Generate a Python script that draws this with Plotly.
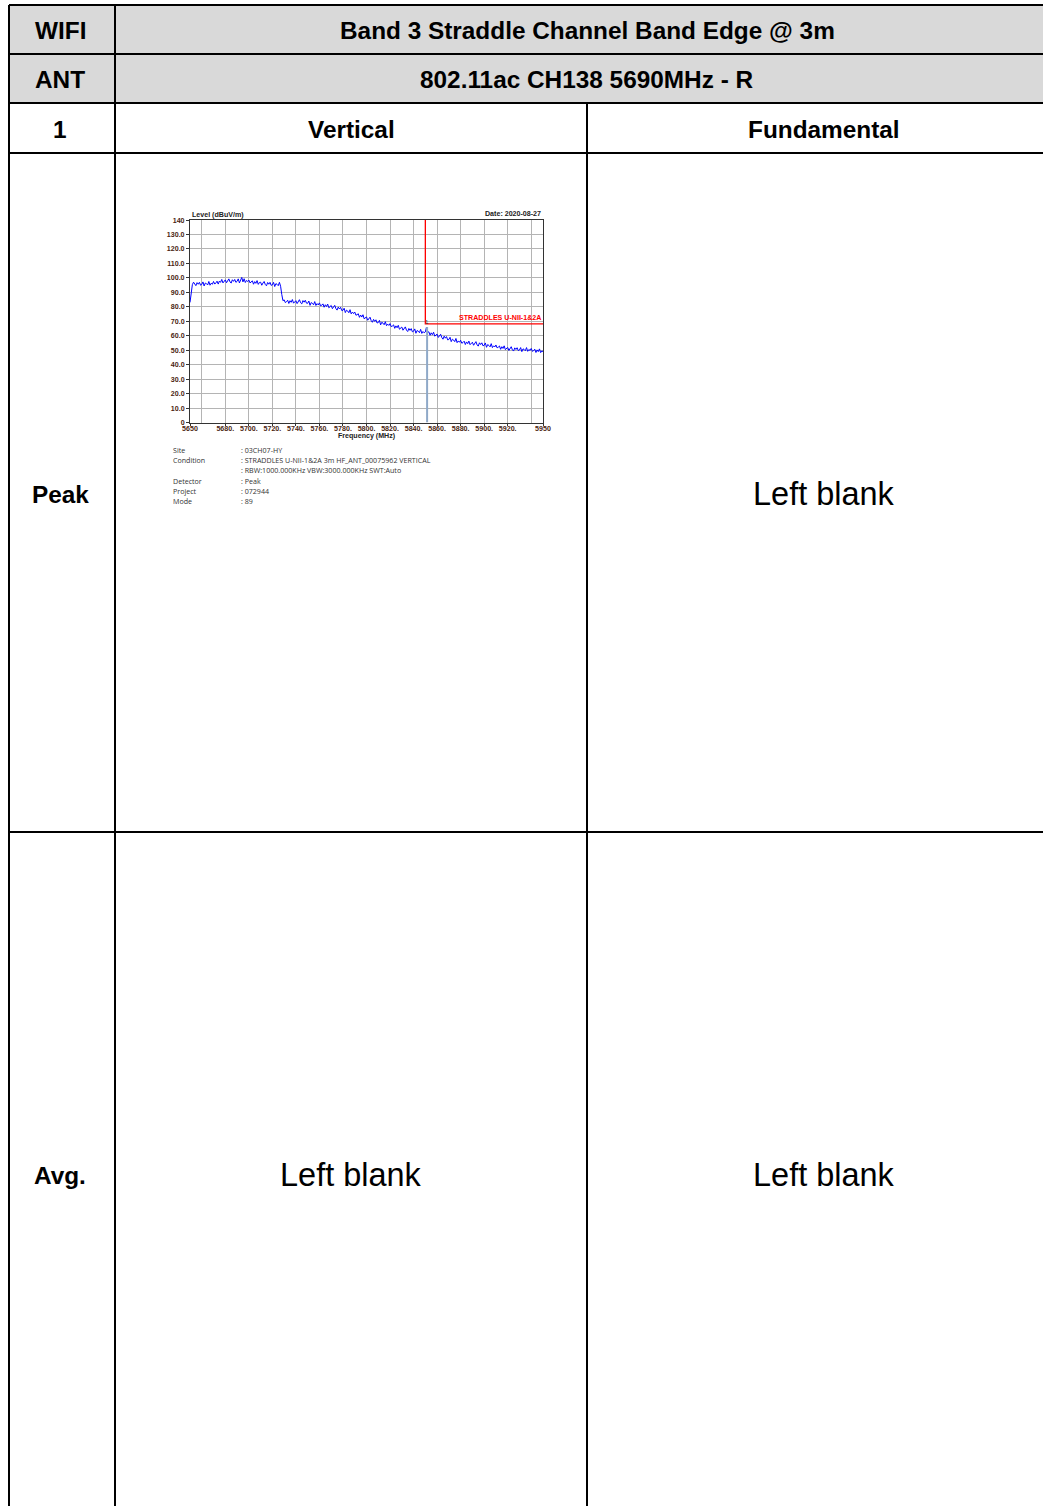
import plotly.graph_objects as go

# reference page size
W, H = 1051, 1510
# the photo puts the page into a 1035x1502 box at (8, 4); draw in reference pixels
OX, OY = 8, 4
SX, SY = 1035 / 1051, 1502 / 1510
FS = 1 / SX  # font size compensation

# ---- table texts ----
title_row = ["WIFI", "Band 3 Straddle Channel Band Edge @ 3m"]
ant_row = ["ANT", "802.11ac CH138 5690MHz - R"]
col_row = ["1", "Vertical", "Fundamental"]
row_names = ["Peak", "Avg."]
blank_text = "Left blank"

# ---- spectrum (Peak / Vertical), 1 MHz step from 5650 MHz ----
start_freq = 5650
step_freq = 1
level = [
    83.0, 90.5, 95.3, 97.0, 95.2, 94.6, 96.7, 95.6, 96.9, 94.9,
    95.5, 97.2, 94.4, 96.4, 96.0, 95.1, 97.5, 94.9, 96.3, 95.6,
    97.5, 95.7, 96.5, 97.7, 95.7, 97.8, 96.9, 98.9, 96.5, 97.9,
    98.6, 96.6, 98.1, 99.3, 97.2, 96.4, 98.7, 97.6, 98.9, 96.9,
    97.6, 99.3, 96.5, 98.5, 100.3, 97.2, 99.4, 96.8, 98.2, 97.5,
    98.5, 96.5, 97.0, 97.9, 95.6, 97.4, 96.2, 98.1, 95.5, 96.8,
    97.0, 94.9, 96.4, 97.5, 95.4, 94.5, 96.8, 95.6, 96.9, 94.8,
    95.2, 96.9, 94.0, 96.0, 95.5, 94.6, 96.9, 94.2, 88.5, 84.2,
    84.8, 82.9, 83.5, 84.5, 82.3, 84.2, 83.1, 85.0, 82.5, 83.8,
    84.2, 82.2, 83.7, 84.9, 82.8, 82.0, 84.3, 83.2, 84.5, 82.5,
    82.4, 84.0, 81.0, 82.9, 82.4, 81.4, 83.6, 80.9, 82.2, 81.3,
    82.7, 80.7, 81.1, 82.0, 79.7, 81.4, 80.2, 81.9, 79.3, 80.4,
    80.9, 78.7, 80.0, 81.0, 78.7, 77.7, 79.8, 78.5, 79.6, 77.4,
    77.6, 79.0, 76.0, 77.7, 77.1, 75.9, 78.0, 75.1, 76.3, 75.3,
    76.4, 74.2, 74.5, 75.2, 72.7, 74.3, 72.9, 74.5, 71.7, 72.7,
    73.0, 70.7, 71.9, 72.8, 70.4, 69.3, 71.3, 69.9, 71.0, 68.8,
    69.1, 70.6, 67.5, 69.3, 68.7, 67.6, 69.7, 66.9, 68.0, 67.1,
    68.4, 66.3, 66.7, 67.5, 65.1, 66.8, 65.5, 67.2, 64.5, 65.6,
    66.0, 63.8, 65.1, 66.1, 63.8, 62.9, 65.0, 63.7, 64.9, 62.7,
    63.1, 64.7, 61.7, 63.6, 63.1, 62.1, 64.4, 61.6, 62.9, 62.0,
    62.6, 66.0, 62.4, 62.7, 60.3, 62.0, 60.7, 62.4, 59.7, 60.8,
    61.1, 58.8, 60.1, 61.0, 58.7, 57.6, 59.7, 58.3, 59.4, 57.1,
    57.4, 58.9, 55.9, 57.6, 57.0, 55.9, 58.1, 55.2, 56.4, 55.5,
    56.8, 54.8, 55.3, 56.2, 53.9, 55.7, 54.5, 56.3, 53.8, 55.0,
    55.5, 53.4, 54.8, 55.9, 53.7, 52.8, 55.1, 53.9, 55.1, 53.0,
    53.4, 55.0, 52.0, 53.9, 53.3, 52.3, 54.5, 51.8, 53.0, 52.2,
    53.6, 51.6, 52.1, 52.9, 50.6, 52.4, 51.2, 53.0, 50.4, 51.5,
    51.9, 49.8, 51.2, 52.4, 50.2, 49.4, 51.6, 50.5, 51.7, 49.7,
    50.1, 51.8, 49.0, 50.9, 50.5, 49.6, 51.8, 49.2, 50.5, 49.8,
    51.2, 49.2, 49.7, 50.7, 48.4, 50.2, 49.0, 50.9, 48.3, 49.5,
    49.0,
]
freq = [start_freq + step_freq * i for i in range(len(level))]

limit_freq = [5850, 5850, 5950]
limit_level = [140, 68.2, 68.2]
limit_name = "STRADDLES U-NII-1&2A"

marker_freq = [5851.5, 5851.5]
marker_level = [0, 66.0]

y_ticks = [0, 10, 20, 30, 40, 50, 60, 70, 80, 90, 100, 110, 120, 130, 140]
y_ticktext = ["0", "10.0", "20.0", "30.0", "40.0", "50.0", "60.0", "70.0",
              "80.0", "90.0", "100.0", "110.0", "120.0", "130.0", "140"]
x_ticks = [5650, 5680, 5700, 5720, 5740, 5760, 5780, 5800, 5820, 5840,
           5860, 5880, 5900, 5920, 5950]
x_ticktext = ["5650", "5680.", "5700.", "5720.", "5740.", "5760.", "5780.",
              "5800.", "5820.", "5840.", "5860.", "5880.", "5900.", "5920.", "5950"]
x_grid = [5660, 5680, 5700, 5720, 5740, 5760, 5780, 5800, 5820, 5840,
          5860, 5880, 5900, 5920, 5940]

info_labels = ["Site", "Condition", "", "Detector", "Project", "Mode"]
info_values = [": 03CH07-HY",
               ": STRADDLES U-NII-1&2A 3m HF_ANT_00075962 VERTICAL",
               ": RBW:1000.000KHz VBW:3000.000KHz SWT:Auto",
               ": Peak", ": 072944", ": 89"]

BOLD = dict(family="Liberation Sans, Arial", size=24 * FS, color="black", weight="bold")
REG = dict(family="Liberation Sans, Arial", size=32 * FS, color="black")
SMALL_B = dict(family="Liberation Sans, Arial", size=7 * FS, color="#222222", weight="bold")
INFO = dict(family="Open Sans, Lato", size=7 * FS, color="#333333")


def px_x(x):
    return (x - OX) / (W * SX)


def px_y(y):
    return 1 - (y - OY) / (H * SY)


fig = go.Figure()

# spectrum chart on its own axes
fig.add_trace(go.Scatter(x=freq, y=level, mode="lines", xaxis="x2", yaxis="y2",
                         line=dict(color="#0000ff", width=1), showlegend=False))
fig.add_trace(go.Scatter(x=limit_freq, y=limit_level, mode="lines", xaxis="x2", yaxis="y2",
                         line=dict(color="#ff0000", width=1.3), showlegend=False))
fig.add_trace(go.Scatter(x=marker_freq, y=marker_level, mode="lines", xaxis="x2", yaxis="y2",
                         line=dict(color="#8fa9c8", width=2), showlegend=False))

# table drawn on a canvas axis that uses the reference pixel grid
LEFT = 9  # outer border, as far left as the photo allows
shapes = []
shapes.append(dict(type="rect", x0=LEFT, x1=W, y0=5, y1=103, xref="x", yref="y",
                   fillcolor="#d9d9d9", line=dict(width=0), layer="below"))
for yy in [5, 54, 103, 153, 832]:
    shapes.append(dict(type="line", x0=LEFT, x1=W, y0=yy, y1=yy, xref="x", yref="y",
                       line=dict(color="black", width=2)))
for xx, top in [(LEFT, 5), (115, 5), (587, 103)]:
    shapes.append(dict(type="line", x0=xx, x1=xx, y0=top, y1=H, xref="x", yref="y",
                       line=dict(color="black", width=2)))

ann = []

def txt(x, y, s, font, xa="center", ya="middle", xref="x", yref="y"):
    ann.append(dict(x=x, y=y, text=s, showarrow=False, font=font, xanchor=xa,
                    yanchor=ya, xref=xref, yref=yref))

txt(60, 30, title_row[0], BOLD)
txt(587, 30, title_row[1], BOLD)
txt(60, 79, ant_row[0], BOLD)
txt(587, 79, ant_row[1], BOLD)
txt(60, 129, col_row[0], BOLD)
txt(351, 129, col_row[1], BOLD)
txt(824, 129, col_row[2], BOLD)
txt(60, 494, row_names[0], BOLD)
txt(60, 1175, row_names[1], BOLD)
txt(824, 494, blank_text, REG)
txt(351, 1175, blank_text, REG)
txt(824, 1175, blank_text, REG)

# chart captions
txt(190, 215, "Level (dBuV/m)", SMALL_B, xa="left")
txt(543, 214, "Date: 2020-08-27", SMALL_B, xa="right")
txt(367, 436, "Frequency (MHz)", SMALL_B)
txt(5950, 68.2, limit_name, dict(family="Liberation Sans, Arial", size=7 * FS, color="#ff0000", weight="bold"),
    xa="right", ya="bottom", xref="x2", yref="y2")
txt(marker_freq[1], marker_level[1], "1", dict(family="Liberation Sans, Arial", size=6 * FS, color="#333333"),
    ya="bottom", xref="x2", yref="y2")

for i, (lab, val) in enumerate(zip(info_labels, info_values)):
    yy = 450 + 10.2 * i
    if lab:
        txt(171, yy, lab, INFO, xa="left")
    txt(239, yy, val, INFO, xa="left")

tick_font = dict(family="Liberation Sans, Arial", size=7 * FS, color="#4a2511", weight="bold")

fig.update_layout(
    width=W, height=H,
    margin=dict(l=0, r=0, t=0, b=0),
    paper_bgcolor="white", plot_bgcolor="white",
    showlegend=False,
    shapes=shapes, annotations=ann,
    xaxis=dict(range=[OX, OX + W * SX], domain=[0, 1], visible=False, fixedrange=True),
    yaxis=dict(range=[OY + H * SY, OY], domain=[0, 1], visible=False, fixedrange=True),
    xaxis2=dict(range=[5650, 5950], domain=[px_x(190), px_x(543)], anchor="y2",
                tickmode="array", tickvals=x_ticks, ticktext=x_ticktext,
                tickfont=tick_font, showgrid=False, zeroline=False,
                ticks="outside", ticklen=2, tickcolor="#333333", ticklabelstandoff=-3,
                showline=True, linecolor="#333333", linewidth=1, mirror=True,
                minor=dict(tickmode="array", tickvals=x_grid, showgrid=True,
                           gridcolor="#b4b4b4", gridwidth=1, ticks=""),
                ),
    yaxis2=dict(range=[0, 140], domain=[px_y(422.5), px_y(220)], anchor="x2",
                tickmode="array", tickvals=y_ticks, ticktext=y_ticktext,
                tickfont=tick_font, showgrid=True, gridcolor="#b4b4b4", gridwidth=1,
                zeroline=False, ticks="outside", ticklen=3, tickcolor="#333333",
                showline=True, linecolor="#333333", linewidth=1, mirror=True),
)

css_fix = ("document.documentElement.style.margin='0';document.documentElement.style.padding='0';"
           "document.documentElement.style.overflow='hidden';"
           "document.body.style.margin='0';document.body.style.padding='0';"
           "document.body.style.overflow='hidden';")
fig.write_html("out.html", post_script=css_fix, config={"displayModeBar": False})
